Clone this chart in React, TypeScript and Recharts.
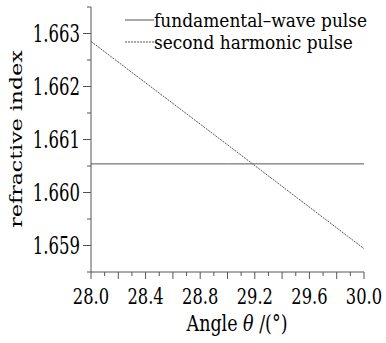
import React from 'react';
import { LineChart, Line, XAxis, YAxis, Legend } from 'recharts';

const angles = [28.0, 29.0, 30.0];
const fundamentalWave = [1.66054, 1.66054, 1.66054];
const secondHarmonic = [1.66285, 1.6609, 1.65894];

const xTicks = [28.0, 28.1, 28.2, 28.3, 28.4, 28.5, 28.6, 28.7, 28.8, 28.9, 29.0, 29.1, 29.2, 29.3, 29.4, 29.5, 29.6, 29.7, 29.8, 29.9, 30.0];
const xLabelTicks = ['28.0', '28.4', '28.8', '29.2', '29.6', '30.0'];
const yTicks = [1.6585, 1.659, 1.6595, 1.66, 1.6605, 1.661, 1.6615, 1.662, 1.6625, 1.663, 1.6635];
const yLabelTicks = ['1.659', '1.660', '1.661', '1.662', '1.663'];

const seriesNames = ['fundamental\u2013wave pulse', 'second harmonic pulse'];

const data = angles.map((a, i) => ({ angle: a, fw: fundamentalWave[i], sh: secondHarmonic[i] }));

const FONT = '"DejaVu Serif", serif';
const AXIS = '#555';
const TEXT = '#000';
const SY = 1.42;

const XTick = (props: any) => {
  const { x, y, payload } = props;
  const v: number = payload.value;
  const label = v.toFixed(1);
  const steps = Math.round((v - 28) * 10);
  const long = steps % 2 === 0;
  const show = xLabelTicks.includes(label);
  return (
    <g transform={`translate(${x},${y})`}>
      <line x1={0} x2={0} y1={0} y2={long ? 7 : 4} stroke={AXIS} strokeWidth={1} />
      {show && (
        <text x={0} y={24 / SY} dy="0.36em" textAnchor="middle" transform={`scale(1,${SY})`}
          style={{ fontFamily: FONT }} fontSize={16.3} fill={TEXT}>{label}</text>
      )}
    </g>
  );
};

const TopTick = (props: any) => {
  const { x, y } = props;
  return <line x1={x} x2={x} y1={y} y2={y - 3} stroke={AXIS} strokeWidth={1} />;
};

const YTick = (props: any) => {
  const { x, y, payload } = props;
  const v: number = payload.value;
  const label = v.toFixed(3);
  const major = Math.abs(v * 1000 - Math.round(v * 1000)) < 1e-6;
  const show = major && yLabelTicks.includes(label);
  return (
    <g transform={`translate(${x},${y})`}>
      <line x1={0} x2={major ? -8 : -4} y1={0} y2={0} stroke={AXIS} strokeWidth={1} />
      {show && (
        <text x={-11} y={0} dy="0.36em" textAnchor="end" transform={`scale(1,${SY})`}
          style={{ fontFamily: FONT }} fontSize={16.5} fill={TEXT}>{label}</text>
      )}
    </g>
  );
};

const LegendContent = () => (
  <div style={{ fontFamily: FONT, fontSize: 17, color: TEXT }}>
    {seriesNames.map((n, i) => (
      <div key={n} style={{ display: 'flex', alignItems: 'center', height: 22, whiteSpace: 'nowrap' }}>
        <svg width={29} height={4} style={{ display: 'block' }}>
          <line x1={0} x2={29} y1={2} y2={2} stroke={AXIS} strokeWidth={1}
            strokeDasharray={i === 1 ? '2 1' : undefined} />
        </svg>
        <span style={{ display: 'inline-block', transform: 'scaleY(1.12)', lineHeight: '18px' }}>{n}</span>
      </div>
    ))}
  </div>
);

export default function App() {
  return (
    <div style={{ position: 'absolute', left: 0, top: 0, width: 386, height: 343, background: '#fff' }}>
      <LineChart width={386} height={343} data={data} margin={{ top: 7, right: 22, bottom: 0, left: 0 }}>
        <XAxis dataKey="angle" type="number" domain={[28, 30]} ticks={xTicks} interval={0}
          height={71} tickLine={false} tickSize={0} tickMargin={0} tick={<XTick />}
          axisLine={{ stroke: AXIS, strokeWidth: 1 }} allowDecimals />
        <XAxis xAxisId="top" orientation="top" dataKey="angle" type="number" domain={[28, 30]} ticks={xTicks}
          interval={0} height={0} tickLine={false} tickSize={0} tickMargin={0} tick={<TopTick />}
          axisLine={{ stroke: AXIS, strokeWidth: 1 }} />
        <YAxis type="number" domain={[1.6585, 1.6635]} ticks={yTicks} interval={0} width={91}
          tickLine={false} tickSize={0} tickMargin={0} tick={<YTick />} allowDataOverflow
          axisLine={{ stroke: AXIS, strokeWidth: 1 }} />
        <YAxis yAxisId="right" orientation="right" type="number" domain={[1.6585, 1.6635]} width={0}
          tick={false} tickLine={false} axisLine={{ stroke: AXIS, strokeWidth: 1 }} />
        <Line dataKey="fw" name={seriesNames[0]} stroke={AXIS} strokeWidth={1} dot={false}
          isAnimationActive={false} />
        <Line dataKey="sh" name={seriesNames[1]} stroke={AXIS} strokeWidth={1} strokeDasharray="2 1"
          dot={false} isAnimationActive={false} />
        <Legend layout="vertical" align="center" verticalAlign="middle" content={<LegendContent />}
          wrapperStyle={{ position: 'absolute', left: 125, top: 9, width: 'auto', height: 'auto' }} />
      </LineChart>
      <svg width={386} height={343} style={{ position: 'absolute', left: 0, top: 0, pointerEvents: 'none' }}>
        <g transform={`translate(16.5,139) rotate(-90) scale(1.3,1)`}>
          <text x={0} y={0} dy="0.34em" textAnchor="middle" style={{ fontFamily: FONT }} fontSize={17} fill={TEXT}>refractive index</text>
        </g>
        <g transform={`translate(237,323) scale(1,1.25)`}>
          <text x={0} y={0} dy="0.36em" textAnchor="middle" style={{ fontFamily: FONT }} fontSize={17.5} fill={TEXT}>
            Angle <tspan fontStyle="italic">θ</tspan> /(°)
          </text>
        </g>
      </svg>
    </div>
  );
}
